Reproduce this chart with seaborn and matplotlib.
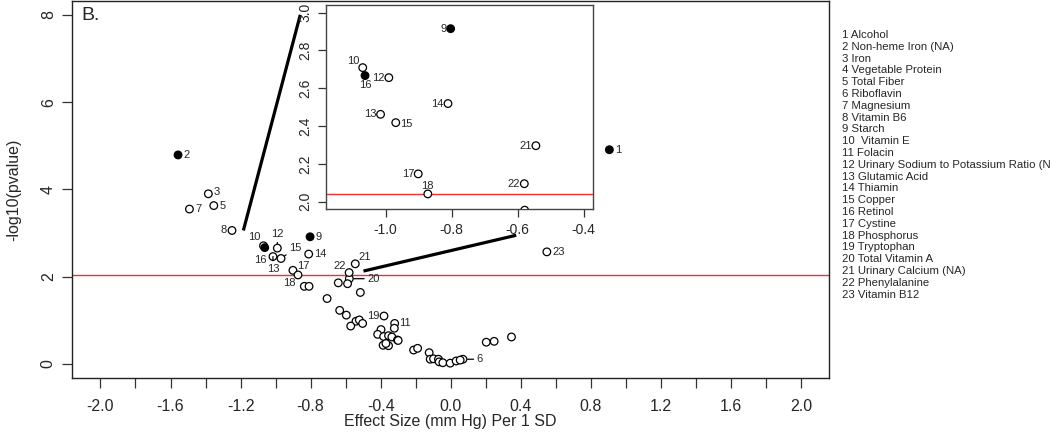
import numpy as np
import pandas as pd
import matplotlib
matplotlib.use("Agg")
import matplotlib.pyplot as plt
from matplotlib.ticker import MultipleLocator, FuncFormatter, FixedLocator
import seaborn as sns

# labelled nutrients: id, effect size, -log10(p)
lab_ids = [1, 2, 3, 5, 6, 7, 8, 9, 10, 11, 12, 13, 14, 15, 16, 17, 18, 19, 20, 21, 22, 23]
lab_effect = [0.906, -1.557, -1.384, -1.353, 0.070, -1.492, -1.249, -0.803, -1.069, -0.320, -0.990,
              -1.015, -0.811, -0.969, -1.062, -0.901, -0.872, -0.381, -0.579, -0.545, -0.580, 0.549]
lab_logp = [4.91, 4.79, 3.90, 3.63, 0.11, 3.55, 3.06, 2.915, 2.709, 0.93, 2.656,
            2.462, 2.519, 2.418, 2.667, 2.147, 2.041, 1.10, 1.955, 2.296, 2.095, 2.57]
filled_ids = [1, 2, 9, 16]

# unlabelled nutrients
other_effect = [-0.836, -0.809, -0.642, -0.589, -0.516, -0.706, -0.634, -0.596,
                -0.541, -0.522, -0.503, -0.571, -0.322, -0.398, -0.417,
                -0.383, -0.355, -0.336, -0.304, -0.300, -0.386, -0.355, -0.370,
                -0.212, -0.189, -0.123, -0.117, -0.098, -0.070, -0.066, -0.045,
                -0.003, 0.031, 0.054, 0.203, 0.248, 0.347]
other_logp = [1.78, 1.78, 1.86, 1.84, 1.64, 1.50, 1.23, 1.12,
              0.98, 1.01, 0.93, 0.87, 0.82, 0.79, 0.68,
              0.63, 0.65, 0.62, 0.55, 0.54, 0.43, 0.42, 0.47,
              0.32, 0.36, 0.26, 0.11, 0.12, 0.11, 0.05, 0.03,
              0.02, 0.07, 0.09, 0.50, 0.52, 0.62]

threshold = 2.04

legend_names = ["Alcohol", "Non-heme Iron (NA)", "Iron", "Vegetable Protein", "Total Fiber",
                "Riboflavin", "Magnesium", "Vitamin B6", "Starch", " Vitamin E", "Folacin",
                "Urinary Sodium to Potassium Ratio (NA)", "Glutamic Acid", "Thiamin", "Copper",
                "Retinol", "Cystine", "Phosphorus", "Tryptophan", "Total Vitamin A",
                "Urinary Calcium (NA)", "Phenylalanine", "Vitamin B12"]

# zoom connector segments (main-axis data coords)
conn_a_x, conn_a_y = [-1.184, -0.859], [3.06, 8.0]
conn_b_x, conn_b_y = [-0.498, 0.374], [2.13, 2.95]

df = pd.DataFrame({
    "effect": lab_effect + other_effect,
    "logp": lab_logp + other_logp,
    "id": lab_ids + [0] * len(other_effect),
})
df["kind"] = np.where(df["id"].isin(filled_ids), "filled", "open")

# label placement: (dx pt, dy pt, ha, leader line)
main_lab = {1: (4, 0, "left", False), 2: (4, 0, "left", False), 3: (4, 1, "left", False),
            5: (4, 0, "left", False), 7: (4, 0, "left", False), 8: (-4, 0, "right", False),
            9: (4, 0, "left", False), 10: (-2, 6.5, "right", False), 16: (-3, -9, "center", False),
            12: (0, 10, "center", True), 13: (0, -9, "center", True), 15: (6, 7.5, "left", True),
            14: (4, 0, "left", False), 17: (3, 3, "left", False), 18: (-1.5, -5.5, "right", False),
            22: (-2, 4.5, "right", False), 21: (2, 5, "left", False), 20: (13, 0, "left", True),
            19: (-3, 0, "right", False), 11: (3.5, 0, "left", False), 6: (10, 0, "left", True),
            23: (4, 0, "left", False)}
inset_lab = {9: (-3, 0, "right"), 10: (-2, 4.5, "right"), 16: (0, -6.5, "center"),
             12: (-3, 0, "right"), 14: (-3, 0, "right"), 13: (-3, 0, "right"),
             15: (3, -1, "left"), 21: (-3, 0, "right"), 17: (-3, 0, "right"),
             22: (-3, 0, "right"), 18: (0, 6, "center")}

sns.set_style("ticks")
plt.rcParams["font.family"] = ["Liberation Sans", "DejaVu Sans"]

fig = plt.figure(figsize=(10.5, 4.32), dpi=100)
ax = fig.add_axes([0.069, 0.125, 0.7205, 0.873])

pal = {"open": "white", "filled": "black"}


def draw_points(a, size):
    sns.scatterplot(data=df, x="effect", y="logp", hue="kind", palette=pal,
                    edgecolor="black", linewidth=0.9, s=size, legend=False, ax=a, zorder=3)


draw_points(ax, 30)
ax.axhline(threshold, color="#f03030", lw=1, zorder=1)
ax.plot(conn_a_x, conn_a_y, color="black", lw=2.3, solid_capstyle="butt", zorder=2)
ax.plot(conn_b_x, conn_b_y, color="black", lw=2.3, solid_capstyle="butt", zorder=2)

ax.set_xlim(-2.16, 2.16)
ax.set_ylim(-0.32, 8.32)
ax.xaxis.set_major_locator(MultipleLocator(0.2))
ax.xaxis.set_major_formatter(FuncFormatter(
    lambda v, p: f"{v:.1f}".replace("-0.0", "0.0") if abs(round(v / 0.2)) % 2 == 0 else ""))
ax.yaxis.set_major_locator(FixedLocator([0, 2, 4, 6, 8]))
ax.tick_params(axis="both", direction="out", length=7, width=0.9, labelsize=11.5, color="#333333")
ax.tick_params(axis="x", pad=8)
ax.tick_params(axis="y", pad=5)
for lbl in ax.get_yticklabels():
    lbl.set_rotation(90)
    lbl.set_va("center")
for sp in ax.spines.values():
    sp.set_visible(True)
    sp.set_linewidth(1)
    sp.set_color("#222222")
ax.set_xlabel("Effect Size (mm Hg) Per 1 SD", fontsize=11.5, labelpad=0)
ax.set_ylabel("-log10(pvalue)", fontsize=11.5, labelpad=14)
ax.text(0.012, 0.985, "B.", transform=ax.transAxes, fontsize=14, ha="left", va="top")

labelled = df[df["id"] > 0].set_index("id")
for i, (dx, dy, ha, leader) in main_lab.items():
    px, py = labelled.loc[i, "effect"], labelled.loc[i, "logp"]
    arrow = dict(arrowstyle="-", lw=0.9, color="black", shrinkA=0, shrinkB=3.2) if leader else None
    ax.annotate(str(i), (px, py), xytext=(dx, dy), textcoords="offset points",
                ha=ha, va="center", fontsize=8, arrowprops=arrow, zorder=4)

# inset zoom
axin = fig.add_axes([0.3105, 0.517, 0.254, 0.4713])
draw_points(axin, 30)
axin.axhline(threshold, color="#f03030", lw=1, zorder=1)
axin.set_xlim(-1.18, -0.373)
axin.set_ylim(1.963, 3.04)
axin.xaxis.set_major_locator(FixedLocator([-1.0, -0.8, -0.6, -0.4]))
axin.yaxis.set_major_locator(FixedLocator([2.0, 2.2, 2.4, 2.6, 2.8, 3.0]))
axin.xaxis.set_major_formatter(FuncFormatter(lambda v, p: f"{v:.1f}"))
axin.yaxis.set_major_formatter(FuncFormatter(lambda v, p: f"{v:.1f}"))
axin.tick_params(axis="both", direction="out", length=6, width=0.9, labelsize=10, color="#333333")
axin.tick_params(axis="x", pad=4)
axin.tick_params(axis="y", pad=4)
for lbl in axin.get_yticklabels():
    lbl.set_rotation(90)
    lbl.set_va("center")
for sp in axin.spines.values():
    sp.set_visible(True)
    sp.set_linewidth(1)
    sp.set_color("#444444")
axin.set_xlabel("")
axin.set_ylabel("")
for i, (dx, dy, ha) in inset_lab.items():
    px, py = labelled.loc[i, "effect"], labelled.loc[i, "logp"]
    axin.annotate(str(i), (px, py), xytext=(dx, dy), textcoords="offset points",
                  ha=ha, va="center", fontsize=8, zorder=4)

# nutrient key on the right (the long entry runs off the edge, as in the source)
for k, name in enumerate(legend_names):
    fig.text(842 / 1050, 1 - (35 + 11.8 * k) / 432, f"{k + 1} {name}",
             fontsize=8.2, ha="left", va="center")

fig.savefig("out.png", dpi=100)
